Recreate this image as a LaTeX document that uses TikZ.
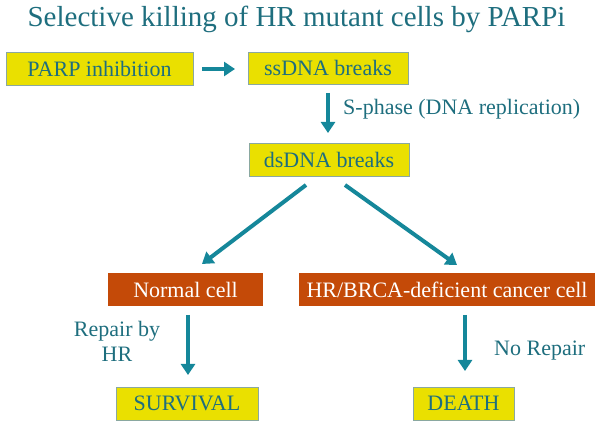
\documentclass[tikz,border=0pt]{standalone}
\usepackage{fontspec}
\setmainfont{Liberation Serif}
\usetikzlibrary{arrows.meta}
\definecolor{tealtext}{HTML}{1E6E7E}
\definecolor{arrowc}{HTML}{15879A}
\definecolor{boxyellow}{HTML}{EAE000}
\definecolor{boxborder}{HTML}{8AA8A0}
\definecolor{boxred}{HTML}{C44A08}
\begin{document}
\begin{tikzpicture}[x=1pt,y=-1pt,
  ybox/.style={draw=boxborder, line width=0.7pt, fill=boxyellow, text=tealtext, font=\fontsize{22}{24}\selectfont, inner sep=0pt},
  rbox/.style={fill=boxred, text=white, font=\fontsize{22}{24}\selectfont, inner sep=0pt},
  lbl/.style={text=tealtext, font=\fontsize{22}{25}\selectfont, inner sep=0pt},
  arr/.style={draw=arrowc, line width=4pt, -{Triangle[length=11pt,width=14pt]}}]
\useasboundingbox (0,0) rectangle (600,427);
\node[text=tealtext, font=\fontsize{29}{34}\selectfont, inner sep=0pt, anchor=base] (title) at (296.5,27) {Selective killing of HR mutant cells by PARPi};
\node[ybox, minimum width=187pt, minimum height=33pt] (parp) at (99.5,68.5) {PARP inhibition};
\node[ybox, minimum width=160pt, minimum height=32pt] (ss) at (328,68) {ssDNA breaks};
\node[ybox, minimum width=160pt, minimum height=33pt] (ds) at (329,159.5) {dsDNA breaks};
\node[rbox, minimum width=155pt, minimum height=33pt] (normal) at (185.5,289.5) {Normal cell};
\node[rbox, minimum width=296pt, minimum height=33pt] (cancer) at (447,289.5) {HR/BRCA-deficient cancer cell};
\node[ybox, minimum width=142pt, minimum height=33pt] (surv) at (187,403.5) {SURVIVAL};
\node[ybox, minimum width=101pt, minimum height=33pt] (death) at (463.5,403.5) {DEATH};
\coordinate (a1s) at (202,69); \coordinate (a1e) at (235,69);
\draw[arr] (a1s) -- (a1e);
\coordinate (a2s) at (328,93); \coordinate (a2e) at (328,133);
\draw[arr] (a2s) -- (a2e);
\node[lbl, anchor=base west] (sphase) at (343,115) {S-phase (DNA replication)};
\coordinate (a3s) at (306,185); \coordinate (a3e) at (202,264);
\draw[arr] (a3s) -- (a3e);
\coordinate (a4s) at (345,185); \coordinate (a4e) at (457,265);
\draw[arr] (a4s) -- (a4e);
\coordinate (a5s) at (188,315); \coordinate (a5e) at (188,375);
\draw[arr] (a5s) -- (a5e);
\coordinate (a6s) at (465,315); \coordinate (a6e) at (465,371);
\draw[arr] (a6s) -- (a6e);
\node[lbl, align=center] (repair) at (117,341) {Repair by\\HR};
\node[lbl, anchor=base west] (norep) at (494,356) {No Repair};
\end{tikzpicture}
\end{document}
